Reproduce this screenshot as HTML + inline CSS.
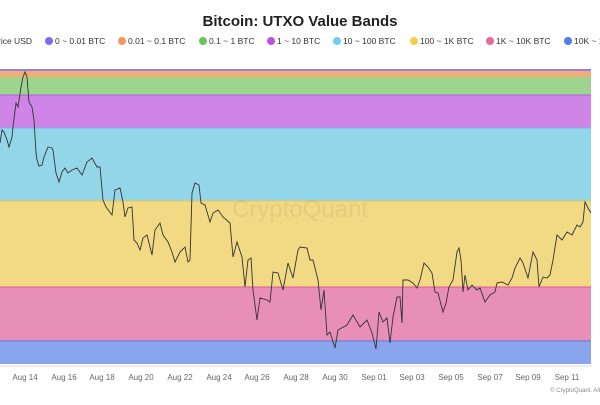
<!DOCTYPE html>
<html><head><style>
body{margin:0;background:#fff;width:600px;height:400px;overflow:hidden;font-family:"Liberation Sans",sans-serif}
</style></head><body>
<svg width="600" height="400" xmlns="http://www.w3.org/2000/svg" font-family="Liberation Sans, sans-serif">
<rect width="600" height="400" fill="#fff"/>
<text x="300" y="26" text-anchor="middle" font-size="15" font-weight="bold" fill="#222">Bitcoin: UTXO Value Bands</text>
<g font-size="8.5" fill="#333">
<text x="-2" y="44">rice USD</text>
<circle cx="49" cy="41" r="4" fill="#7b6cf0"/><text x="55" y="44">0 ~ 0.01 BTC</text>
<circle cx="122" cy="41" r="4" fill="#f5995a"/><text x="128" y="44">0.01 ~ 0.1 BTC</text>
<circle cx="203" cy="41" r="4" fill="#6cc25c"/><text x="209" y="44">0.1 ~ 1 BTC</text>
<circle cx="271" cy="41" r="4" fill="#c052e0"/><text x="277" y="44">1 ~ 10 BTC</text>
<circle cx="337" cy="41" r="4" fill="#6fd0ea"/><text x="343" y="44">10 ~ 100 BTC</text>
<circle cx="414" cy="41" r="4" fill="#f2cf4f"/><text x="420" y="44">100 ~ 1K BTC</text>
<circle cx="490" cy="41" r="4" fill="#e56a9c"/><text x="496" y="44">1K ~ 10K BTC</text>
<circle cx="568" cy="41" r="4" fill="#4f7df0"/><text x="574" y="44">10K ~ 100K BTC</text>
</g>
<rect x="0" y="69" width="591" height="2" fill="#8c82ec"/>
<rect x="0" y="71" width="591" height="6" fill="#f4ad77"/>
<rect x="0" y="77" width="591" height="18" fill="#9dd58e"/>
<rect x="0" y="95" width="591" height="33" fill="#cf84e8"/>
<rect x="0" y="128" width="591" height="73" fill="#93d6ea"/>
<rect x="0" y="201" width="591" height="86" fill="#f2da85"/>
<rect x="0" y="287" width="591" height="54" fill="#e78fb7"/>
<rect x="0" y="341" width="591" height="23" fill="#88a5ee"/>
<g stroke-width="1"><line x1="0" y1="95" x2="591" y2="95" stroke="#b060d8"/><line x1="0" y1="128" x2="591" y2="128" stroke="#70b8e0"/><line x1="0" y1="201" x2="591" y2="201" stroke="#e8c650"/><line x1="0" y1="287" x2="591" y2="287" stroke="#e05a95"/><line x1="0" y1="341" x2="591" y2="341" stroke="#5b7ae8"/></g>
<text x="300" y="217" text-anchor="middle" font-size="24" fill="#000" fill-opacity="0.06">CryptoQuant</text>
<polyline fill="none" stroke="#333" stroke-width="0.9" points="0,143 2,130 4,132 7,140 9,147 12,137 13,127 16,103 18,107 21,87 23,77 25,72 27,77 29,102 32,107 34,120 36,153 37,160 39,166 42,165 44,157 48,147 52,148 53,150 56,173 59,182 62,172 65,168 68,173 72,170 77,168 82,175 87,162 92,158 97,167 100,167 103,200 106,207 112,215 115,190 120,188 123,202 125,217 128,208 132,207 134,240 137,243 140,250 143,238 147,235 152,255 155,230 160,223 163,235 168,242 172,252 175,262 180,252 185,247 188,262 190,260 192,193 195,183 199,185 201,203 205,205 210,222 213,213 218,210 223,217 230,223 233,257 237,242 242,257 245,287 248,260 251,258 253,290 257,320 260,298 267,300 270,302 273,272 278,273 283,290 288,263 293,278 298,250 300,247 307,248 310,260 313,260 318,280 321,310 324,290 327,335 330,332 335,348 338,330 347,325 353,315 360,327 367,320 372,333 376,349 379,312 383,322 387,318 390,343 393,317 397,297 400,297 402,323 403,280 408,280 413,283 417,288 420,280 424,263 428,267 432,273 435,292 438,293 443,312 446,303 449,287 453,280 457,252 459,248 461,260 463,292 465,275 468,290 472,285 477,290 480,288 485,302 490,295 495,292 497,283 502,282 508,285 512,278 515,268 520,258 523,263 528,278 533,252 537,260 539,287 543,277 547,278 550,275 553,260 557,235 562,240 567,232 572,235 577,225 580,227 583,222 585,202 588,208 591,213"/>
<line x1="0" y1="366" x2="591" y2="366" stroke="#ddd"/>
<g font-size="8" fill="#666" text-anchor="middle">
<text x="25" y="380">Aug 14</text><text x="64" y="380">Aug 16</text><text x="102" y="380">Aug 18</text><text x="141" y="380">Aug 20</text><text x="180" y="380">Aug 22</text><text x="219" y="380">Aug 24</text><text x="257" y="380">Aug 26</text><text x="296" y="380">Aug 28</text><text x="335" y="380">Aug 30</text><text x="374" y="380">Sep 01</text><text x="412" y="380">Sep 03</text><text x="451" y="380">Sep 05</text><text x="490" y="380">Sep 07</text><text x="528" y="380">Sep 09</text><text x="567" y="380">Sep 11</text>
</g>
<text x="600" y="392" text-anchor="end" font-size="6" fill="#888">© CryptoQuant. All</text>
</svg>
</body></html>
